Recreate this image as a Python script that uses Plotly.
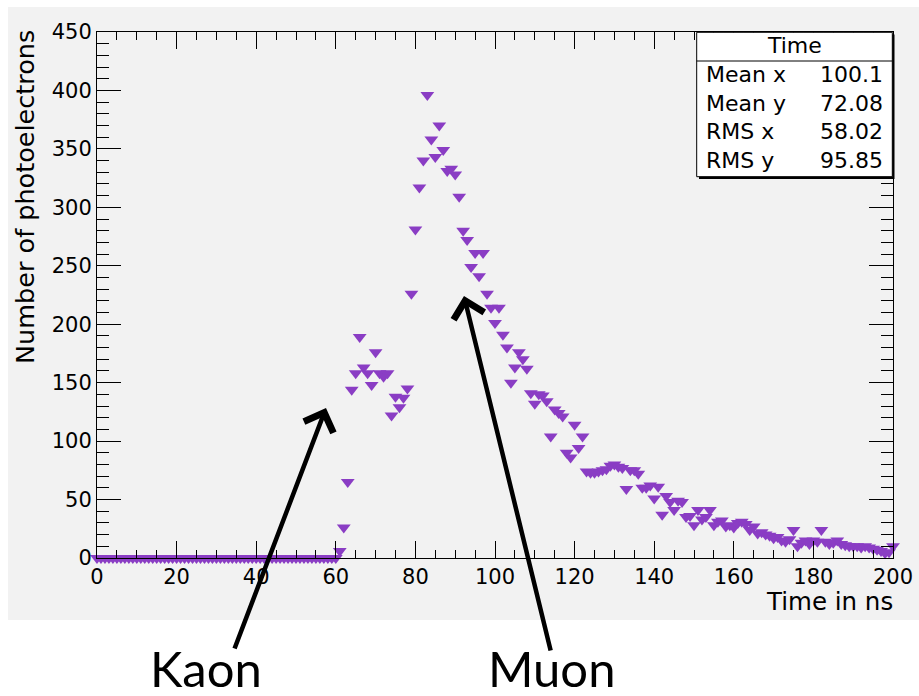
import plotly.graph_objects as go

# ---------------- data ----------------
time_ns = list(range(0, 201))
flat_part = [0] * 61  # 0..60 ns
signal_part = [
    6, 26, 65, 144, 158, 189, 163, 158, 148, 176,        # 61-70
    158, 155, 158, 122, 138, 129, 137, 145, 226, 281,    # 71-80
    317, 340, 396, 358, 343, 370, 349, 331, 333, 328,    # 81-90
    309, 280, 272, 249, 261, 241, 261, 226, 214, 201,    # 91-100
    214, 191, 180, 150, 163, 176, 170, 162, 141, 132,    # 101-110
    140, 139, 134, 104, 127, 124, 121, 90, 86, 114,      # 111-120
    94, 104, 74, 73, 73, 74, 75, 76, 79, 80,             # 121-130
    78, 77, 59, 75, 75, 72, 60, 60, 62, 51,              # 131-140
    61, 37, 53, 48, 41, 49, 48, 35, 36, 28,              # 141-150
    41, 33, 35, 41, 28, 31, 32, 27, 28, 26,              # 151-160
    30, 31, 29, 24, 27, 21, 22, 20, 19, 17,              # 161-170
    18, 15, 14, 16, 24, 10, 13, 15, 12, 15,              # 171-180
    14, 24, 14, 12, 13, 15, 12, 11, 10, 10,              # 181-190
    10, 9, 10, 9, 8, 7, 6, 4, 5, 10,                     # 191-200
]
photoelectrons = flat_part + signal_part

x_tick_step, x_minor_step = 20, 5
y_tick_step, y_minor_step = 50, 10

stats_title = "Time"
stats_labels = ["Mean x", "Mean y", "RMS x", "RMS y"]
stats_values = ["100.1", "72.08", "58.02", "95.85"]

# ---------------- layout geometry (pixels) ----------------
W, H = 919, 696
PL, PR, PT, PB = 97, 893, 32, 558   # plot area edges


def fx(px):
    return (px - PL) / (PR - PL)


def fy(py):
    return (PB - py) / (PB - PT)


FONT = "DejaVu Sans"
GRAY = "#f2f2f2"
PURPLE = "#8a3dc4"

fig = go.Figure()
fig.add_trace(go.Scatter(
    x=time_ns, y=photoelectrons, mode="markers", cliponaxis=False,
    marker=dict(symbol="triangle-down", size=12, color=PURPLE, line=dict(width=0)),
    showlegend=False, hoverinfo="x+y",
))

shapes = [
    # gray canvas
    dict(type="rect", xref="paper", yref="paper", x0=fx(8), x1=fx(925), y0=fy(620), y1=fy(7),
         fillcolor=GRAY, line=dict(width=0), layer="below"),
    # stats box shadow
    dict(type="rect", xref="paper", yref="paper", x0=fx(699), x1=fx(894.5), y0=fy(179), y1=fy(34.5),
         fillcolor="black", line=dict(width=0)),
    # stats box
    dict(type="rect", xref="paper", yref="paper", x0=fx(696.7), x1=fx(892.3), y0=fy(176.7), y1=fy(32.3),
         fillcolor="white", line=dict(color="black", width=1)),
    dict(type="line", xref="paper", yref="paper", x0=fx(696.7), x1=fx(892.3), y0=fy(61), y1=fy(61),
         line=dict(color="black", width=1)),
]

annotations = [
    dict(text=stats_title, xref="paper", yref="paper", x=fx(794.5), y=fy(45), xanchor="center",
         yanchor="middle", showarrow=False, font=dict(family=FONT, size=22, color="black")),
]
row_y = [75, 103, 131.5, 160]
for lab, val, ry in zip(stats_labels, stats_values, row_y):
    annotations.append(dict(text=lab, xref="paper", yref="paper", x=fx(704), y=fy(ry), xanchor="left",
                            yanchor="middle", showarrow=False, font=dict(family=FONT, size=22, color="black")))
    annotations.append(dict(text=val, xref="paper", yref="paper", x=fx(885), y=fy(ry), xanchor="right",
                            yanchor="middle", showarrow=False, font=dict(family=FONT, size=22, color="black")))

# axis titles (ROOT style: right / top aligned)
annotations.append(dict(text="Time in ns", xref="paper", yref="paper", x=fx(895), y=fy(601),
                        xanchor="right", yanchor="middle", showarrow=False,
                        font=dict(family=FONT, size=24.5, color="black")))
annotations.append(dict(text="Number of photoelectrons", xref="paper", yref="paper", x=fx(25), y=fy(28),
                        xanchor="center", yanchor="top", textangle=-90, showarrow=False,
                        font=dict(family=FONT, size=25.5, color="black")))

# Kaon / Muon labels and arrows
annotations.append(dict(text="Kaon", xref="paper", yref="paper", x=fx(206), y=fy(668),
                        xanchor="center", yanchor="middle", showarrow=False,
                        font=dict(family="Lato", size=49, color="black")))
annotations.append(dict(text="Muon", xref="paper", yref="paper", x=fx(552), y=fy(668),
                        xanchor="center", yanchor="middle", showarrow=False,
                        font=dict(family="Lato", size=49, color="black")))
annotations.append(dict(text="", xref="paper", yref="paper", x=fx(326), y=fy(408),
                        ax=234 - 326, ay=650 - 408, showarrow=True, arrowhead=4,
                        arrowsize=1.35, arrowwidth=4.5, arrowcolor="black", standoff=0))
annotations.append(dict(text="", xref="paper", yref="paper", x=fx(464), y=fy(296),
                        ax=551 - 464, ay=652 - 296, showarrow=True, arrowhead=4,
                        arrowsize=1.35, arrowwidth=4.5, arrowcolor="black", standoff=0))

axis_common = dict(showline=True, linecolor="black", linewidth=1, mirror="allticks",
                   ticks="inside", tickcolor="black", tickwidth=1, showgrid=False, zeroline=False,
                   tickfont=dict(family=FONT, size=21, color="black"))

fig.update_layout(
    width=W, height=H,
    margin=dict(l=PL, r=W - PR, t=PT, b=H - PB, pad=0, autoexpand=False),
    paper_bgcolor="white", plot_bgcolor=GRAY,
    xaxis=dict(range=[0, 200], tickmode="linear", tick0=0, dtick=x_tick_step, ticklen=17,
               minor=dict(dtick=x_minor_step, tick0=0, ticks="inside", ticklen=8,
                          tickcolor="black", tickwidth=1, showgrid=False),
               **axis_common),
    yaxis=dict(range=[0, 450], tickmode="linear", tick0=0, dtick=y_tick_step, ticklen=24,
               minor=dict(dtick=y_minor_step, tick0=0, ticks="inside", ticklen=12,
                          tickcolor="black", tickwidth=1, showgrid=False),
               **axis_common),
    shapes=shapes, annotations=annotations,
)

fig.write_html("out.html")
